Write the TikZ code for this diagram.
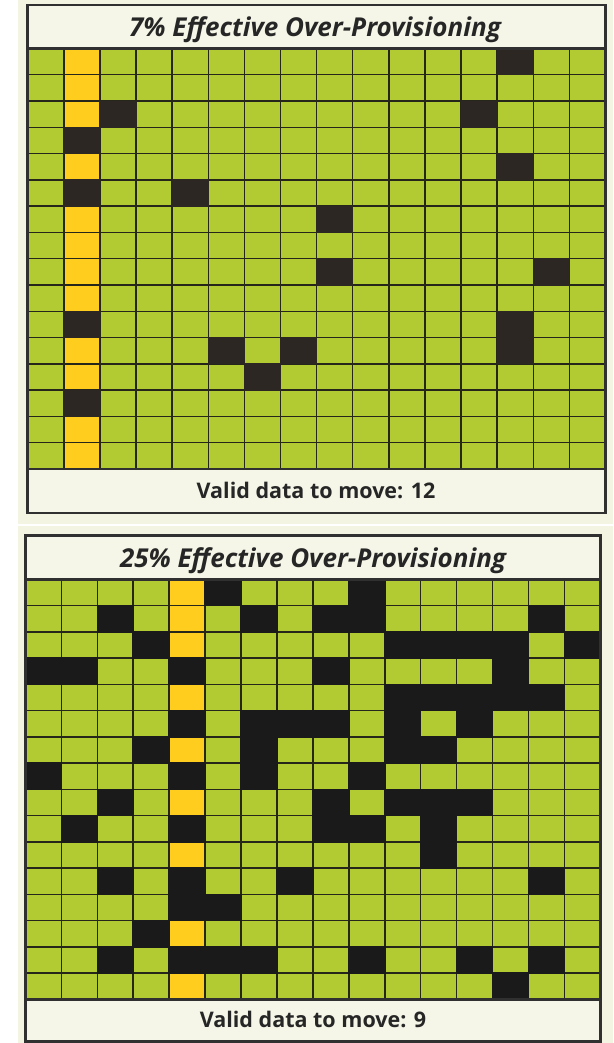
\documentclass[tikz,border=0pt]{standalone}
\usepackage{fontspec}
\setsansfont{Open Sans}
\definecolor{bgc}{HTML}{F4F4E2}
\definecolor{boxc}{HTML}{F5F6E7}
\definecolor{gcell}{HTML}{B2CB32}
\definecolor{ycell}{HTML}{FFCD1E}
\definecolor{bkA}{HTML}{2C2723}
\definecolor{bkB}{HTML}{1A1A1A}
\definecolor{gline}{HTML}{26261A}
\definecolor{frame}{HTML}{303030}
\tikzset{
  gridline/.style={draw=gline, line width=1.4pt},
  framebox/.style={draw=frame, line width=2.6pt},
  titletext/.style={font=\sffamily\bfseries\itshape\fontsize{26}{28}\selectfont, text=black!85, inner sep=0pt, anchor=base},
  labeltext/.style={font=\sffamily\bfseries\fontsize{21.5}{23}\selectfont, text=black!85, inner sep=0pt, anchor=base},
}
\begin{document}
\begin{tikzpicture}[x=1pt,y=-1pt]
\useasboundingbox (0,0) rectangle (613,1043);
\fill[white] (0,0) rectangle (613,1043);
\fill[bgc] (18,0) rectangle (613,523.5);
\fill[bgc] (18,525.5) rectangle (613,1043);

% ---------- top panel ----------
\fill[boxc] (27.7,5) rectangle (605.5,48.5);
\fill[boxc] (27.7,469) rectangle (605.5,513);
\begin{scope}[shift={(27.7,48.5)}, x=36.11pt, y=-26.28pt]
  \fill[gcell] (0,0) rectangle (16,16);
  \foreach \r in {1,2,3,5,7,8,9,10,12,13,15,16}
    \fill[ycell] (1,\r-1) rectangle (2,\r);
  \foreach \i in {1,...,15} {
    \draw[gridline] (\i,0) -- (\i,16);
    \draw[gridline] (0,\i) -- (16,\i);
  }
  \foreach \c/\r in {2/4,2/6,2/11,2/14,14/1,3/3,13/3,14/5,5/6,9/7,9/9,15/9,14/11,6/12,8/12,14/12,7/13}
    \fill[bkA] ([shift={(-0.5pt,0.5pt)}]\c-1,\r-1) rectangle ([shift={(0.5pt,-0.5pt)}]\c,\r);
\end{scope}
\draw[framebox] (27.7,48.5) -- (605.5,48.5);
\draw[framebox] (27.7,469) -- (605.5,469);
\draw[framebox] (27.7,5) rectangle (605.5,513);
\node[titletext] (t1) at (315,37) {7\% Effective Over-Provisioning};
\node[labeltext] (l1) at (316,498) {Valid data to move: 12};

% ---------- bottom panel ----------
\fill[boxc] (25.3,535.3) rectangle (600.5,579.3);
\fill[boxc] (25.3,999.3) rectangle (600.5,1041.5);
\begin{scope}[shift={(25.3,579.3)}, x=35.95pt, y=-26.25pt]
  \fill[gcell] (0,0) rectangle (16,16);
  \foreach \r in {1,2,3,5,7,9,11,14,16}
    \fill[ycell] (4,\r-1) rectangle (5,\r);
  \foreach \i in {1,...,15} {
    \draw[gridline] (\i,0) -- (\i,16);
    \draw[gridline] (0,\i) -- (16,\i);
  }
  \foreach \c/\r in {6/1,10/1,
    3/2,7/2,9/2,10/2,15/2,
    4/3,11/3,12/3,13/3,14/3,16/3,
    1/4,2/4,5/4,9/4,14/4,
    11/5,12/5,13/5,14/5,15/5,
    5/6,7/6,8/6,9/6,11/6,13/6,
    4/7,7/7,11/7,12/7,
    1/8,5/8,7/8,10/8,
    3/9,9/9,11/9,12/9,13/9,
    2/10,5/10,9/10,10/10,12/10,
    12/11,
    3/12,5/12,8/12,15/12,
    5/13,6/13,
    4/14,
    3/15,5/15,6/15,7/15,10/15,13/15,15/15,
    14/16}
    \fill[bkB] ([shift={(-0.7pt,0.7pt)}]\c-1,\r-1) rectangle ([shift={(0.7pt,-0.7pt)}]\c,\r);
\end{scope}
\draw[framebox] (25.3,579.3) -- (600.5,579.3);
\draw[framebox] (25.3,999.3) -- (600.5,999.3);
\draw[framebox] (25.3,535.3) rectangle (600.5,1041.5);
\node[titletext] (t2) at (313,567.5) {25\% Effective Over-Provisioning};
\node[labeltext] (l2) at (313,1027.5) {Valid data to move: 9};
\end{tikzpicture}
\end{document}
